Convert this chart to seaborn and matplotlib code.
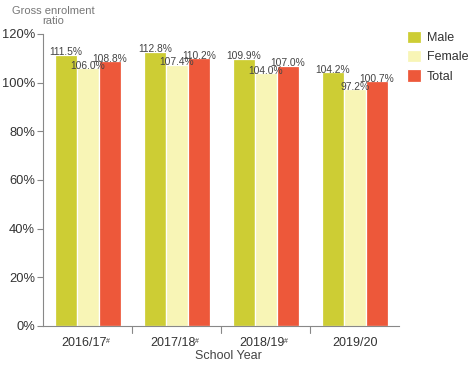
import matplotlib
matplotlib.use("Agg")
import matplotlib.pyplot as plt
import seaborn as sns
import pandas as pd

years = ["2016/17", "2017/18", "2018/19", "2019/20"]
year_marks = ["#", "#", "#", ""]
male = [111.5, 112.8, 109.9, 104.2]
female = [106.0, 107.4, 104.0, 97.2]
total = [108.8, 110.2, 107.0, 100.7]
series = ["Male", "Female", "Total"]
colors = ["#CDCD34", "#F8F5B6", "#ED583A"]

rows = []
for s, vals in zip(series, [male, female, total]):
    for y, v in zip(years, vals):
        rows.append({"year": y, "series": s, "value": v})
df = pd.DataFrame(rows)

sns.set_style("white")
plt.rcParams['font.family'] = ['Liberation Sans', 'DejaVu Sans']

fig = plt.figure(figsize=(4.69, 3.65), dpi=100)
ax = fig.add_axes([43.3/469, 39/365, 356/469, 292/365])
sns.barplot(data=df, x="year", y="value", hue="series", palette=colors,
            width=0.74, ax=ax, edgecolor="white", linewidth=0.9, saturation=1)

for cont in ax.containers:
    ax.bar_label(cont, labels=[f"{v:.1f}%" for v in cont.datavalues],
                 fontsize=7.4, color="#444444", padding=-2)

ax.set_ylim(0, 120)
ax.set_xlim(-0.5, 3.5)
ax.set_yticks(range(0, 121, 20))
ax.set_yticklabels([f"{v}%" for v in range(0, 121, 20)], fontsize=9.3, color="#333333")
ax.set_xticks([0, 1, 2, 3])
ax.set_xticklabels([])
ax.tick_params(axis="x", length=0)
ax.tick_params(axis="y", length=4, color="#888888", direction="out", left=True, pad=2)
xt = ax.get_xaxis_transform()
for i, (yr, m) in enumerate(zip(years, year_marks)):
    dx = -2.5 if m else 0
    ax.annotate(yr, xy=(i, 0), xycoords=xt, xytext=(dx, -12), textcoords="offset points",
                ha="center", va="center", fontsize=9, color="#333333", annotation_clip=False)
    if m:
        ax.annotate(m, xy=(i, 0), xycoords=xt, xytext=(dx + 15.6, -8.6),
                    textcoords="offset points", ha="left", va="top", fontsize=5,
                    color="#333333", annotation_clip=False)
for b in [0.5, 1.5, 2.5]:
    ax.plot([b, b], [0, -0.025], transform=xt, clip_on=False, color="#888888", lw=0.8)
ax.set_xlabel("")
ax.set_ylabel("")
fig.text(228/469, 1 - 356/365, "School Year", ha="center", va="center",
         fontsize=9, color="#444444")
for sp in ["top", "right"]:
    ax.spines[sp].set_visible(False)
for sp in ["left", "bottom"]:
    ax.spines[sp].set_color("#888888")
    ax.spines[sp].set_linewidth(0.8)

fig.text(53/469, 1 - 16/365, "Gross enrolment\nratio", ha="center", va="center",
         fontsize=8, color="#777777", linespacing=1.1)

ax.legend(loc="upper left", bbox_to_anchor=(407/469, 1 - 31/365), bbox_transform=fig.transFigure,
          frameon=False, fontsize=9, handlelength=1.15, handleheight=1.15,
          labelspacing=0.45, handletextpad=0.45, borderaxespad=0, borderpad=0)
ax.get_legend().set_title(None)
for t in ax.get_legend().get_texts():
    t.set_color("#333333")

fig.savefig("out.png", dpi=100)
